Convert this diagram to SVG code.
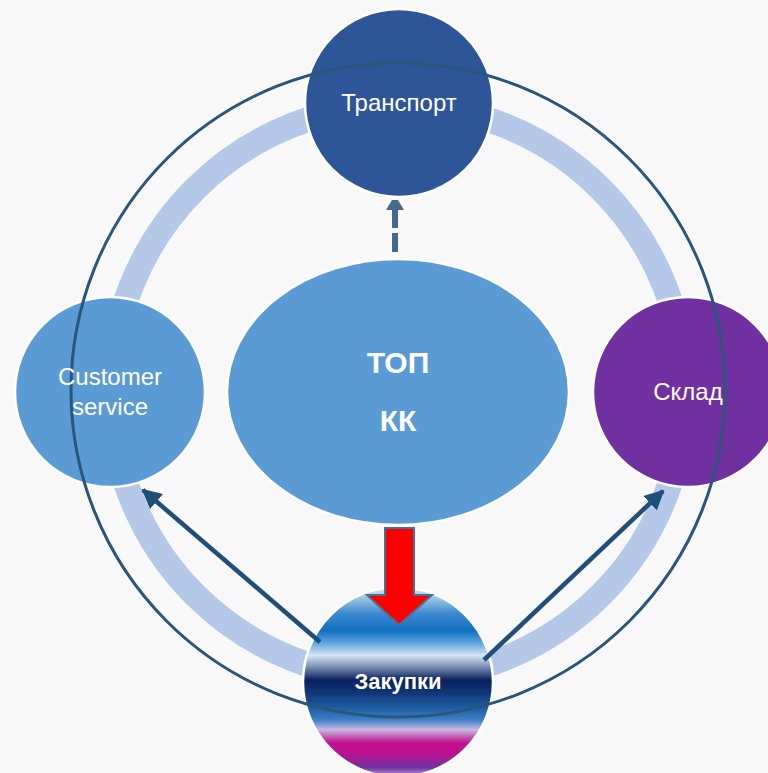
<svg xmlns="http://www.w3.org/2000/svg" width="768" height="773" viewBox="0 0 768 773">
<defs>
<style>
.node{stroke:#ffffff;stroke-width:2.5}
.lbl{font-family:"Liberation Sans","Noto Sans",sans-serif;fill:#ffffff;text-anchor:middle}
.conn{stroke:#1f4e79;stroke-width:4.5;fill:none}
</style>
<linearGradient id="stripes" x1="0" y1="0" x2="0" y2="1">
<stop offset="0" stop-color="#dce9f6"/>
<stop offset="0.07" stop-color="#90bce0"/>
<stop offset="0.14" stop-color="#3c8ad0"/>
<stop offset="0.23" stop-color="#1070c0"/>
<stop offset="0.29" stop-color="#5aa0dc"/>
<stop offset="0.36" stop-color="#d4e6f6"/>
<stop offset="0.42" stop-color="#7a90b0"/>
<stop offset="0.49" stop-color="#0a2060"/>
<stop offset="0.56" stop-color="#103878"/>
<stop offset="0.63" stop-color="#1c5aa0"/>
<stop offset="0.70" stop-color="#3c80c8"/>
<stop offset="0.75" stop-color="#c8b8e0"/>
<stop offset="0.82" stop-color="#c0108c"/>
<stop offset="0.87" stop-color="#c01090"/>
<stop offset="0.95" stop-color="#7030a0"/>
<stop offset="1" stop-color="#c0b0d8"/>
</linearGradient>
<marker id="ah" viewBox="0 0 10 10" refX="9" refY="5" markerWidth="4.4" markerHeight="4.4" orient="auto" markerUnits="strokeWidth">
<path d="M0,0 L10,5 L0,10 Z" fill="#1f4e79"/>
</marker>
</defs>
<rect width="768" height="773" fill="#f8f8f8"/>
<circle id="ring" cx="398" cy="392" r="287" fill="none" stroke="#b4c9e8" stroke-width="25"/>
<g id="node-top">
<ellipse class="node" cx="398" cy="392" rx="171" ry="133" fill="#5b9bd5"/>
</g>
<g id="node-transport">
<circle class="node" cx="399" cy="103" r="94" fill="#2e5597"/>
</g>
<g id="node-customer">
<circle class="node" cx="110" cy="392" r="95" fill="#5b9bd5"/>
</g>
<g id="node-sklad">
<circle class="node" cx="688" cy="392" r="95" fill="#7030a0"/>
</g>
<g id="node-zakupki">
<circle class="node" cx="398" cy="682" r="95" fill="url(#stripes)"/>
</g>
<g id="connectors">
<path d="M395,252 V233 M395,228 V210" stroke="#46698c" stroke-width="6" fill="none"/>
<path d="M386,210 L404,210 L398,200 L392,200 Z" fill="#46698c"/>
<path d="M385,528 H414 V595 H432 L399,625 L367,595 H385 Z" fill="#ff0000" stroke="#4a6f94" stroke-width="2"/>
<line class="conn" x1="320" y1="642" x2="143" y2="490" marker-end="url(#ah)"/>
<line class="conn" x1="484" y1="660" x2="663" y2="491" marker-end="url(#ah)"/>
</g>
<circle id="outer" cx="398" cy="390" r="327" fill="none" stroke="#2b5679" stroke-width="3"/>
<g id="labels">
<text class="lbl" x="399" y="111" font-size="24">Транспорт</text>
<text class="lbl" x="110" y="385" font-size="24">Customer</text>
<text class="lbl" x="110" y="415" font-size="24">service</text>
<text class="lbl" x="688" y="400" font-size="24">Склад</text>
<text class="lbl" x="398" y="373" font-size="30" font-weight="bold">ТОП</text>
<text class="lbl" x="398" y="431" font-size="30" font-weight="bold">КК</text>
<text class="lbl" x="398" y="689" font-size="22" font-weight="bold">Закупки</text>
</g>
</svg>
